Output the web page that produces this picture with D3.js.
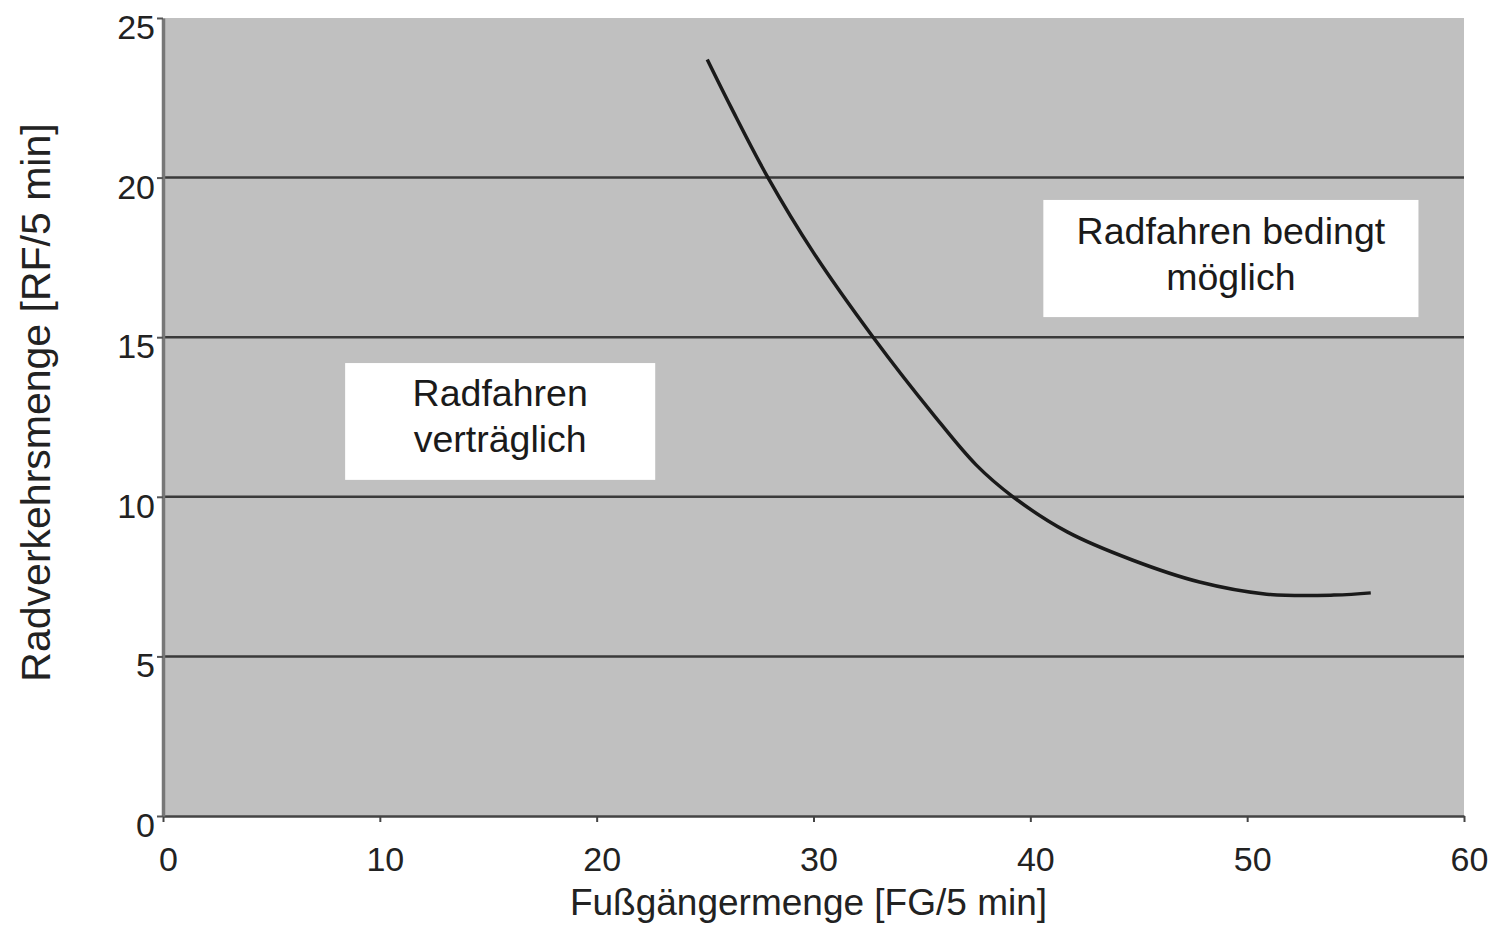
<!DOCTYPE html>
<html>
<head>
<meta charset="utf-8">
<script src="https://cdn.jsdelivr.net/npm/d3@7"></script>
<style>
  html, body { margin: 0; padding: 0; background: #fff; }
  svg { display: block; }
  text { font-family: "Liberation Sans", Arial, sans-serif; }
</style>
</head>
<body>
<svg id="chart" width="1493" height="927"></svg>
<script>
// ---- data ----
const xTicks = [0, 10, 20, 30, 40, 50, 60];
const yTicks = [0, 5, 10, 15, 20, 25];
const curveX = [25.1, 26.2, 27.9, 30.0, 32.75, 35.5, 37.5, 39.2, 41.7, 44.7, 47.8, 50.9, 54.0, 55.7];
const curveY = [23.7, 22.2, 20.0, 17.65, 15.0, 12.6, 11.0, 10.0, 8.9, 8.02, 7.33, 6.95, 6.92, 6.99];
const xTitle = "Fußgängermenge [FG/5 min]";
const yTitle = "Radverkehrsmenge [RF/5 min]";
const zoneLabels = [
  ["Radfahren", "verträglich"],
  ["Radfahren bedingt", "möglich"]
];
// zone box extents in data units [x0, x1, y0, y1]
const zoneBoxes = [
  [8.4, 22.7, 10.53, 14.19],
  [40.6, 57.9, 15.63, 19.3]
];

// ---- layout ----
const margin = { left: 163, top: 18, right: 29, bottom: 111 };
const W = 1493, H = 927;
const iw = W - margin.left - margin.right;
const ih = H - margin.top - margin.bottom;

const svg = d3.select("#chart");
const g = svg.append("g").attr("transform", `translate(${margin.left},${margin.top})`);

const x = d3.scaleLinear().domain([0, 60]).range([0, iw]);
const y = d3.scaleLinear().domain([0, 25]).range([ih, 0]);

// background
g.append("rect").attr("x", 0).attr("y", 0).attr("width", iw).attr("height", ih).attr("fill", "#c0c0c0");

// gridlines
g.append("g").selectAll("line")
  .data(yTicks.filter(d => d > 0 && d < 25))
  .join("line")
  .attr("x1", 0).attr("x2", iw)
  .attr("y1", d => y(d)).attr("y2", d => y(d))
  .attr("stroke", "#3a3a3a").attr("stroke-width", 2.5);

// zone boxes
zoneBoxes.forEach((b, i) => {
  const bx = x(b[0]), bw = x(b[1]) - x(b[0]);
  const by = y(b[3]), bh = y(b[2]) - y(b[3]);
  g.append("rect").attr("x", bx).attr("y", by).attr("width", bw).attr("height", bh).attr("fill", "#ffffff");
  const cx = bx + bw / 2, cy = by + bh / 2;
  const t = g.append("text").attr("text-anchor", "middle").attr("font-size", 37.5).attr("fill", "#1a1a1a");
  t.append("tspan").attr("x", cx).attr("y", cy - 15).text(zoneLabels[i][0]);
  t.append("tspan").attr("x", cx).attr("y", cy + 31).text(zoneLabels[i][1]);
});

// curve
const pts = curveX.map((v, i) => [v, curveY[i]]);
const line = d3.line().x(d => x(d[0])).y(d => y(d[1])).curve(d3.curveCatmullRom.alpha(0.5));
g.append("path").attr("d", line(pts)).attr("fill", "none")
  .attr("stroke", "#1a1a1a").attr("stroke-width", 3.5).attr("stroke-linecap", "butt");

// axes
const xAxis = d3.axisBottom(x).tickValues(xTicks).tickSize(6).tickSizeOuter(0).tickFormat(d3.format("d"));
const yAxis = d3.axisLeft(y).tickValues(yTicks).tickSize(6).tickSizeOuter(0).tickFormat(d3.format("d"));

const gx = g.append("g").attr("transform", `translate(0,${ih})`).call(xAxis);
gx.select(".domain").attr("stroke", "#444").attr("stroke-width", 2.5);
gx.selectAll(".tick line").attr("stroke", "#444").attr("stroke-width", 2);
gx.selectAll(".tick text").attr("font-size", 34).attr("fill", "#222")
  .attr("font-family", "'Liberation Sans', Arial, sans-serif")
  .attr("dx", 5).attr("y", 31).attr("dy", "0.71em");

const gy = g.append("g").call(yAxis);
gy.select(".domain").attr("stroke", "#777").attr("stroke-width", 3.5);
gy.selectAll(".tick line").attr("stroke", "#555").attr("stroke-width", 2);
gy.selectAll(".tick text").attr("font-size", 34).attr("fill", "#222")
  .attr("font-family", "'Liberation Sans', Arial, sans-serif")
  .attr("x", -8).attr("dy", "0.6em");

// titles
svg.append("text").attr("x", margin.left + x(30) - 5).attr("y", 915)
  .attr("text-anchor", "middle").attr("font-size", 37).attr("fill", "#222").text(xTitle);

svg.append("text")
  .attr("transform", `translate(50,${(122 + 683) / 2}) rotate(-90)`)
  .attr("text-anchor", "middle").attr("font-size", 41).attr("fill", "#222").text(yTitle);
</script>
</body>
</html>
